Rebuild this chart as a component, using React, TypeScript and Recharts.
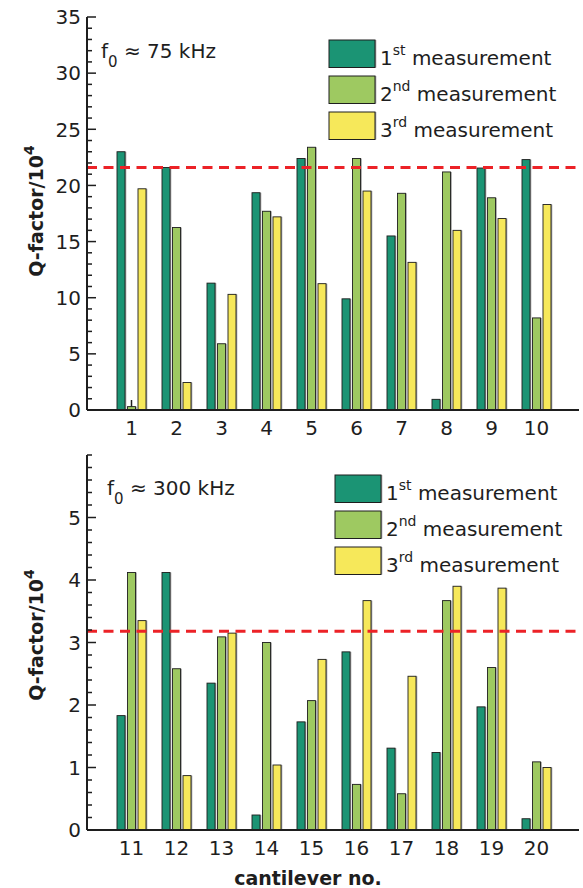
import React from 'react';
import { BarChart, Bar, XAxis, YAxis, ReferenceLine, Legend } from 'recharts';

// ---------- data ----------
const CANTILEVERS_75 = ['1', '2', '3', '4', '5', '6', '7', '8', '9', '10'];
const FIRST_75 = [23.0, 21.6, 11.3, 19.35, 22.4, 9.9, 15.5, 0.95, 21.55, 22.3];
const SECOND_75 = [0.3, 16.25, 5.9, 17.7, 23.4, 22.4, 19.3, 21.2, 18.9, 8.2];
const THIRD_75 = [19.7, 2.45, 10.3, 17.2, 11.25, 19.5, 13.15, 16.0, 17.05, 18.3];
const MEAN_75 = 21.6;

const CANTILEVERS_300 = ['11', '12', '13', '14', '15', '16', '17', '18', '19', '20'];
const FIRST_300 = [1.83, 4.12, 2.35, 0.24, 1.73, 2.85, 1.31, 1.24, 1.97, 0.18];
const SECOND_300 = [4.12, 2.58, 3.09, 3.0, 2.07, 0.73, 0.58, 3.67, 2.6, 1.09];
const THIRD_300 = [3.35, 0.87, 3.15, 1.04, 2.73, 3.67, 2.46, 3.9, 3.87, 1.0];
const MEAN_300 = 3.18;

const Y_MAX_75 = 35;
const Y_MAJOR_75 = [0, 5, 10, 15, 20, 25, 30, 35];
const Y_MINOR_STEP_75 = 1;
const Y_MAX_300 = 6;
const Y_MAJOR_300 = [0, 1, 2, 3, 4, 5];
const Y_MINOR_STEP_300 = 0.2;

const SERIES = [
  { key: 'first', ordinal: '1', sup: 'st', color: '#1b9474' },
  { key: 'second', ordinal: '2', sup: 'nd', color: '#9ec961' },
  { key: 'third', ordinal: '3', sup: 'rd', color: '#f6e85a' },
];

// ---------- styles ----------
const FONT = '"DejaVu Sans", "Liberation Sans", Arial, sans-serif';
const INK = '#1e1e1e';
const W = 583;
const PLOT_LEFT = 87;
const PLOT_RIGHT = 579;
const X_AXIS_H = 35;

const buildTicks = (max: number, step: number) => {
  const n = Math.round(max / step);
  const out: number[] = [];
  for (let i = 0; i <= n; i++) out.push(Math.round(i * step * 1000) / 1000);
  return out;
};

const buildRows = (cats: string[], a: number[], b: number[], c: number[]) =>
  cats.map((name, i) => ({ name, first: a[i], second: b[i], third: c[i] }));

const BarShape = (props: any) => {
  const { x, y, width, height, fill } = props;
  if (!height || height <= 0) return null;
  return (
    <g>
      <rect x={x + 1.3} y={y} width={width} height={height} fill="#808080" opacity={0.75} />
      <rect x={x} y={y} width={width} height={height} fill={fill} stroke={INK} strokeWidth={0.9} />
    </g>
  );
};

// bottom-axis category tick, drawn behind the centre bar of each group (as in the original figure)
const CategoryTickBehind = (props: any) => {
  const { x, y, width, height } = props;
  const cx = x + width / 2;
  const bottom = y + height;
  return <line x1={cx} x2={cx} y1={bottom} y2={bottom - 10} stroke={INK} strokeWidth={1.5} />;
};

const isMajor = (majors: number[], v: number) => majors.some((m) => Math.abs(m - v) < 1e-6);

const makeLeftTick = (majors: number[]) => (props: any) => {
  const { y, payload } = props;
  const major = isMajor(majors, payload.value);
  const len = major ? 9 : 5;
  return (
    <g>
      <line x1={PLOT_LEFT} x2={PLOT_LEFT + len} y1={y} y2={y} stroke={INK} strokeWidth={1.5} />
      {major && (
        <text x={PLOT_LEFT - 6} y={y + 7.3} textAnchor="end" fontSize={20} fontFamily={FONT} fill={INK}>
          {payload.value}
        </text>
      )}
    </g>
  );
};

const makeRightTick = (majors: number[]) => (props: any) => {
  const { y, payload } = props;
  const major = isMajor(majors, payload.value);
  const len = major ? 9 : 5;
  return <line x1={PLOT_RIGHT} x2={PLOT_RIGHT - len} y1={y} y2={y} stroke={INK} strokeWidth={1.5} />;
};

const makeBottomLabel = (plotBottom: number) => (props: any) => {
  const { x, payload } = props;
  return (
    <text x={x} y={plotBottom + 25} textAnchor="middle" fontSize={20} fontFamily={FONT} fill={INK}>
      {payload.value}
    </text>
  );
};

const makeTopTick = (plotTop: number) => (props: any) => {
  const { x } = props;
  return <line x1={x} x2={x} y1={plotTop} y2={plotTop + 8} stroke={INK} strokeWidth={1.5} />;
};

const LegendContent = (props: any) => {
  const payload = props.payload || [];
  return (
    <svg width={250} height={110} style={{ display: 'block', overflow: 'visible' }}>
      {payload.map((entry: any, i: number) => {
        const s = SERIES.find((q) => q.key === entry.dataKey) || SERIES[i];
        const top = i * 36;
        return (
          <g key={s.key}>
            <rect x={1.3} y={top} width={46} height={27.5} fill="#808080" opacity={0.75} />
            <rect x={0} y={top} width={46} height={27.5} fill={s.color} stroke={INK} strokeWidth={1} />
            <text x={51} y={top + 25} fontSize={20} fontFamily={FONT} fill={INK}>
              {s.ordinal}
              <tspan dy={-10} fontSize={14}>{s.sup}</tspan>
              <tspan dy={10} fontSize={20}> measurement</tspan>
            </text>
          </g>
        );
      })}
    </svg>
  );
};

type PanelProps = {
  top: number;
  height: number;
  plotTop: number;
  data: any[];
  yMax: number;
  yMajor: number[];
  yStep: number;
  mean: number;
  legendLeft: number;
  legendTop: number;
};

const Panel = ({ top, height, plotTop, data, yMax, yMajor, yStep, mean, legendLeft, legendTop }: PanelProps) => {
  const plotBottom = height - X_AXIS_H;
  const yTicks = buildTicks(yMax, yStep);
  const pad = { left: 22, right: 20 };
  return (
    <div style={{ position: 'absolute', left: 0, top, width: W, height }}>
      <BarChart
        width={W}
        height={height}
        data={data}
        margin={{ top: plotTop, right: W - PLOT_RIGHT, left: 0, bottom: 0 }}
        barSize={8}
        barGap={2.5}
      >
        {SERIES.map((s, i) => (
          <Bar
            key={s.key}
            dataKey={s.key}
            fill={s.color}
            shape={BarShape}
            background={i === 1 ? CategoryTickBehind : undefined}
            isAnimationActive={false}
          />
        ))}
        <XAxis
          dataKey="name"
          height={X_AXIS_H}
          padding={pad}
          interval={0}
          tickLine={false}
          axisLine={{ stroke: INK, strokeWidth: 2 }}
          tick={makeBottomLabel(plotBottom)}
        />
        <XAxis
          xAxisId="top"
          orientation="top"
          dataKey="name"
          height={0}
          padding={pad}
          interval={0}
          tickLine={false}
          axisLine={{ stroke: INK, strokeWidth: 2 }}
          tick={makeTopTick(plotTop)}
        />
        <YAxis
          width={PLOT_LEFT}
          type="number"
          domain={[0, yMax]}
          ticks={yTicks}
          interval={0}
          allowDataOverflow
          tickLine={false}
          axisLine={{ stroke: INK, strokeWidth: 2 }}
          tick={makeLeftTick(yMajor)}
        />
        <YAxis
          yAxisId="right"
          orientation="right"
          width={0}
          type="number"
          domain={[0, yMax]}
          ticks={yTicks}
          interval={0}
          allowDataOverflow
          tickLine={false}
          axisLine={{ stroke: INK, strokeWidth: 2 }}
          tick={makeRightTick(yMajor)}
        />
        <ReferenceLine y={mean} stroke="#ec2227" strokeWidth={3} strokeDasharray="10 6.5" ifOverflow="extendDomain" />
        <Legend
          layout="horizontal"
          verticalAlign="middle"
          align="center"
          wrapperStyle={{ left: legendLeft, top: legendTop, width: 250, height: 110 }}
          content={LegendContent}
        />
      </BarChart>
    </div>
  );
};

const Overlay = () => (
  <svg
    width={W}
    height={888}
    style={{ position: 'absolute', left: 0, top: 0, pointerEvents: 'none' }}
    fontFamily={FONT}
    fill={INK}
  >
    <text x={101} y={58} fontSize={20}>
      f<tspan dy={9} fontSize={15}>0</tspan>
      <tspan dy={-9} fontSize={20}> ≈ 75 kHz</tspan>
    </text>
    <text x={107} y={495} fontSize={20}>
      f<tspan dy={9} fontSize={15}>0</tspan>
      <tspan dy={-9} fontSize={20}> ≈ 300 kHz</tspan>
    </text>
    <text x={43} y={211} transform="rotate(-90 43 211)" textAnchor="middle" fontSize={19} fontWeight="bold">
      Q-factor/10<tspan dy={-9} fontSize={14}>4</tspan>
    </text>
    <text x={43} y={635} transform="rotate(-90 43 635)" textAnchor="middle" fontSize={19} fontWeight="bold">
      Q-factor/10<tspan dy={-9} fontSize={14}>4</tspan>
    </text>
    <text x={308} y={885} textAnchor="middle" fontSize={19} fontWeight="bold">
      cantilever no.
    </text>
  </svg>
);

export default function App() {
  const rows75 = buildRows(CANTILEVERS_75, FIRST_75, SECOND_75, THIRD_75);
  const rows300 = buildRows(CANTILEVERS_300, FIRST_300, SECOND_300, THIRD_300);
  return (
    <div style={{ position: 'absolute', left: 0, top: 0, width: W, height: 888, background: '#fff', fontFamily: FONT }}>
      <Panel
        top={0}
        height={445}
        plotTop={17}
        data={rows75}
        yMax={Y_MAX_75}
        yMajor={Y_MAJOR_75}
        yStep={Y_MINOR_STEP_75}
        mean={MEAN_75}
        legendLeft={329}
        legendTop={40}
      />
      <Panel
        top={440}
        height={425}
        plotTop={15}
        data={rows300}
        yMax={Y_MAX_300}
        yMajor={Y_MAJOR_300}
        yStep={Y_MINOR_STEP_300}
        mean={MEAN_300}
        legendLeft={335}
        legendTop={35}
      />
      <Overlay />
    </div>
  );
}
